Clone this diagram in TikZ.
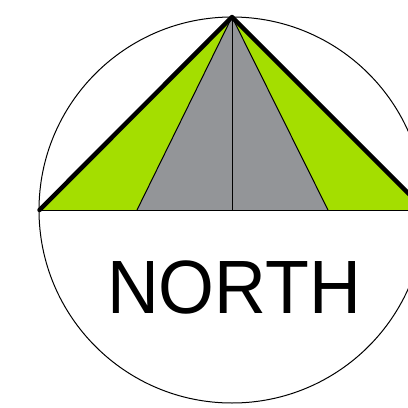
\documentclass[tikz,border=0pt]{standalone}
\usepackage{fontspec}
\setmainfont{Liberation Sans}
\usepackage{xcolor}
\usepackage{tikz}
\definecolor{tentgreen}{RGB}{164,222,0}
\definecolor{tentgray}{RGB}{147,149,152}

\begin{document}
\begin{tikzpicture}[
      x=0.03cm, y=-0.03cm,
      thinline/.style={draw=black, line width=0.03cm},
      heavyline/.style={draw=black, line width=0.135cm, line cap=round, line join=round},
      title/.style={font=\fontsize{64.5}{70}\selectfont, inner sep=0pt, text=black, xscale=0.95}
    ]
      \useasboundingbox (0,0) rectangle (408,407);
      \clip (0,0) rectangle (408,407);

      \coordinate (apex) at (232,17);
      \coordinate (left) at (39.5,210);
      \coordinate (right) at (425,210);
      \coordinate (grayl) at (137,210);
      \coordinate (grayr) at (328,210);
      \coordinate (mid) at (232,210);

      % outer ring
      \draw[thinline] (mid) circle (193);

      % green sides, gray middle
      \fill[tentgreen] (left) -- (apex) -- (right) -- cycle;
      \fill[tentgray] (grayl) -- (apex) -- (grayr) -- cycle;

      \draw[thinline] (grayl) -- (apex) -- (grayr);
      \draw[thinline] (apex) -- (mid);
      \draw[thinline] (left) -- (right);
      \draw[heavyline] (left) -- (apex) -- (right);

      \node[title] (north) at (234,287.2) {NORTH};
    \end{tikzpicture}
\end{document}
